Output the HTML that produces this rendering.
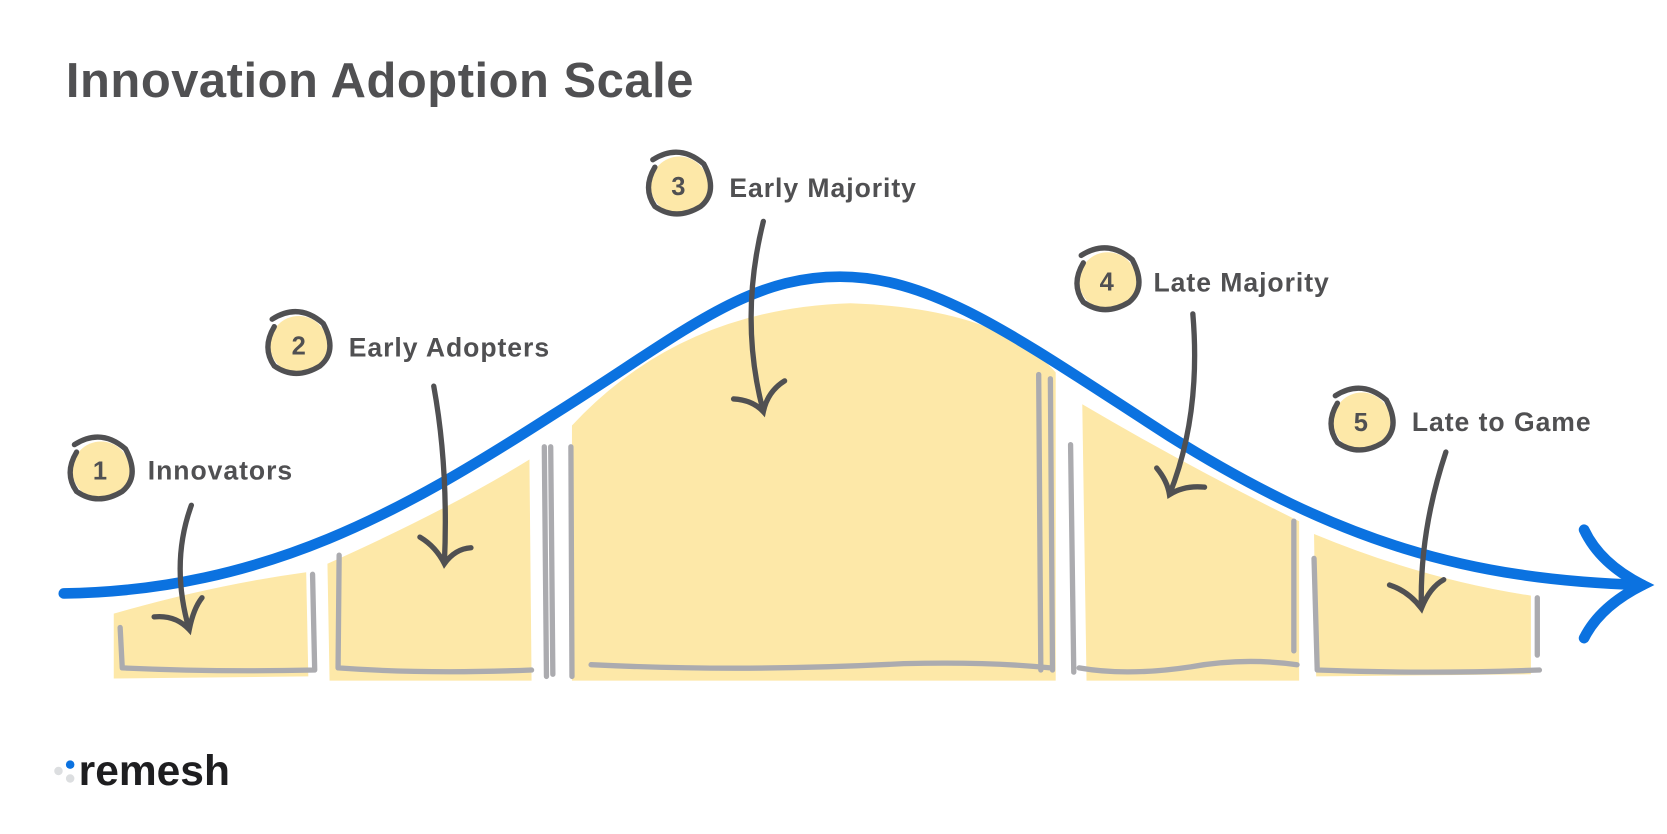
<!DOCTYPE html>
<html><head><meta charset="utf-8"><style>
html,body{margin:0;padding:0;background:#fff;}
svg{display:block;}
text{font-family:"Liberation Sans",sans-serif;font-weight:bold;fill:#505052;}
</style></head><body>
<svg width="1667" height="834" viewBox="0 0 1568 784" xmlns="http://www.w3.org/2000/svg">
<rect width="1568" height="784" fill="#fff"/>
<text x="62" y="91" font-size="46" style="letter-spacing:0.5px">Innovation Adoption Scale</text>
<g fill="#fde8a8">
<path d="M107 577 Q200 550 288 538 L290 636 L107 638 Z"/>
<path d="M308 530 Q420 480 498 432 L500 640 L310 640 Z"/>
<path d="M538 400 Q640 290 800 285 Q940 290 993 350 L993 640 L538 640 Z"/>
<path d="M1018 380 Q1120 440 1222 490 L1222 640 L1022 640 Z"/>
<path d="M1236 502 Q1340 545 1440 560 L1440 634 L1238 636 Z"/>
</g>
<g fill="none" stroke="#ababaf" stroke-width="5" stroke-linecap="round" stroke-linejoin="round">
<path d="M113 590 L115 628 Q200 632 296 630 L294 540"/>
<path d="M319 522 L318 628 Q400 634 500 630"/>
<path d="M512 420 L514 636 M518 420 L520 634"/>
<path d="M537 420 L538 636"/>
<path d="M556 625 Q700 632 850 624 Q930 622 988 628"/>
<path d="M977 352 L979 630 M988 356 L990 630"/>
<path d="M1007 418 L1010 632"/>
<path d="M1015 628 Q1060 636 1120 627 Q1170 618 1220 625"/>
<path d="M1217 490 L1217 612"/>
<path d="M1236 525 L1239 630 Q1340 634 1448 630"/>
<path d="M1446 562 L1446 616"/>
</g>
<g fill="none" stroke="#0b72e0" stroke-width="10" stroke-linecap="round">
<path d="M60 558 C250 555 380 480 520 390 C640 315 700 260 790 260 C880 260 960 320 1100 410 C1260 510 1380 545 1545 550"/>
<path d="M1490 498 Q1505 530 1545 550 Q1505 570 1490 600"/>
</g>
<g fill="#fde8a8">
<circle cx="95" cy="442" r="27"/>
<circle cx="281" cy="324" r="27"/>
<circle cx="639" cy="174" r="27"/>
<circle cx="1042" cy="264" r="27"/>
<circle cx="1281" cy="396" r="27"/>
</g>
<g fill="none" stroke="#505052" stroke-width="5" stroke-linecap="round">
<path d="M70 418 Q95 402 118 422 Q132 448 115 462 Q92 476 72 462 Q60 445 72 425"/>
<path d="M256 300 Q281 284 304 304 Q318 330 301 344 Q278 358 258 344 Q246 327 258 307"/>
<path d="M614 150 Q639 134 662 154 Q676 180 659 194 Q636 208 616 194 Q604 177 616 157"/>
<path d="M1017 240 Q1042 224 1065 244 Q1079 270 1062 284 Q1039 298 1019 284 Q1007 267 1019 247"/>
<path d="M1256 372 Q1281 356 1304 376 Q1318 402 1301 416 Q1278 430 1258 416 Q1246 399 1258 379"/>
<path d="M180 475 Q160 530 178 592 M145 580 Q165 578 178 592 Q182 572 190 562"/>
<path d="M408 363 Q422 440 418 530 M395 505 Q410 514 418 530 Q428 516 443 515"/>
<path d="M718 208 Q695 300 718 387 M690 375 Q708 376 718 387 Q722 368 738 358"/>
<path d="M1122 295 Q1130 390 1100 465 M1088 440 Q1098 452 1100 465 Q1114 456 1133 458"/>
<path d="M1360 425 Q1335 500 1337 572 M1307 550 Q1325 556 1337 572 Q1345 552 1358 545"/>
</g>
<g font-size="24" text-anchor="middle">
<text x="94" y="451">1</text>
<text x="281" y="333">2</text>
<text x="638" y="183">3</text>
<text x="1041" y="273">4</text>
<text x="1280" y="405">5</text>
</g>
<g font-size="25" style="letter-spacing:0.9px">
<text x="139" y="451">Innovators</text>
<text x="328" y="335">Early Adopters</text>
<text x="686" y="185">Early Majority</text>
<text x="1085" y="274">Late Majority</text>
<text x="1328" y="405">Late to Game</text>
</g>
<circle cx="66" cy="719" r="4" fill="#0b72e0"/>
<circle cx="55" cy="725" r="4" fill="#dcdee0"/>
<circle cx="66" cy="732" r="4" fill="#dcdee0"/>
<text x="74" y="738" font-size="40" style="fill:#1e1e20;letter-spacing:0px">remesh</text>
</svg>
</body></html>
